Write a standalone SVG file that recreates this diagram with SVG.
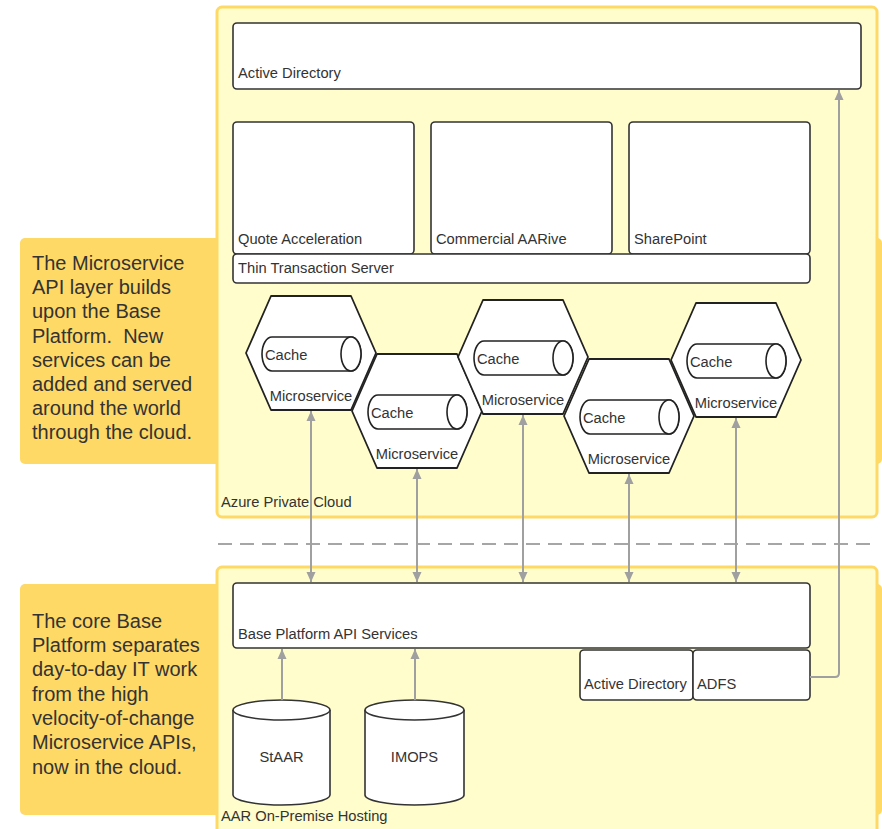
<svg xmlns="http://www.w3.org/2000/svg" width="882" height="829" viewBox="0 0 882 829">
<defs>
<style>
.callout{fill:#FFD966;}
.cont{fill:#FFFDCB;stroke:#FFD966;stroke-width:3;}
.box{fill:#FFFFFF;stroke:#333333;stroke-width:1.6;}
.lbl{font-family:"Liberation Sans",Arial,sans-serif;font-size:14.7px;fill:#333333;}
.ctext{font-family:"Liberation Sans",Arial,sans-serif;font-size:20px;fill:#333333;}
.conn{fill:none;stroke:#A0A0A0;stroke-width:2;}
.dash{fill:none;stroke:#A6A6A6;stroke-width:2;stroke-dasharray:14 8;}
</style>
<marker id="ah" viewBox="0 0 10 10" refX="10" refY="5" markerWidth="10" markerHeight="10" markerUnits="userSpaceOnUse" orient="auto-start-reverse">
<path d="M0,0.5 L10,5 L0,9.5 Z" fill="#A0A0A0"/>
</marker>
<symbol id="hex" overflow="visible">
<path d="M-65,0 L-40,-57 L40,-57 L65,0 L40,57 L-40,57 Z" fill="#FFFFFF" stroke="#222222" stroke-width="1.8" stroke-linejoin="round"/>
<path d="M-39,-16 L40,-16 A10,17 0 0 1 40,18 L-39,18 A10,17 0 0 1 -39,-16 Z" fill="#FFFFFF" stroke="#222222" stroke-width="1.6"/>
<ellipse cx="40" cy="1" rx="10" ry="17" fill="#FFFFFF" stroke="#222222" stroke-width="1.6"/>
</symbol>
</defs>

<g id="callout-cloud">
<rect class="callout" x="20" y="238" width="862" height="226" rx="5"/>
<text class="ctext"><tspan x="32" y="270">The Microservice</tspan><tspan x="32" y="294">API layer builds</tspan><tspan x="32" y="318">upon the Base</tspan><tspan x="32" y="343">Platform.&#160; New</tspan><tspan x="32" y="367">services can be</tspan><tspan x="32" y="391">added and served</tspan><tspan x="32" y="415">around the world</tspan><tspan x="32" y="439">through the cloud.</tspan></text>
</g>
<g id="callout-base">
<rect class="callout" x="20" y="584" width="862" height="231" rx="5"/>
<text class="ctext"><tspan x="32" y="628">The core Base</tspan><tspan x="32" y="652">Platform separates</tspan><tspan x="32" y="676">day-to-day IT work</tspan><tspan x="32" y="701">from the high</tspan><tspan x="32" y="725">velocity-of-change</tspan><tspan x="32" y="749">Microservice APIs,</tspan><tspan x="32" y="774">now in the cloud.</tspan></text>
</g>

<g id="azure-private-cloud">
<rect class="cont" x="217" y="7" width="660" height="510" rx="5"/>
<text class="lbl" x="221" y="507">Azure Private Cloud</text>
</g>
<g id="aar-on-premise">
<rect class="cont" x="217" y="567" width="660" height="280" rx="5"/>
<text class="lbl" x="221" y="821">AAR On-Premise Hosting</text>
</g>

<path id="separator" class="dash" d="M218,544 H872"/>

<g id="active-directory-top">
<rect class="box" x="233" y="23" width="628" height="66" rx="4"/>
<text class="lbl" x="238" y="78">Active Directory</text>
</g>
<g id="quote-acceleration">
<rect class="box" x="233" y="122" width="181" height="132" rx="4"/>
<text class="lbl" x="238" y="244">Quote Acceleration</text>
</g>
<g id="commercial-aarive">
<rect class="box" x="431" y="122" width="181" height="132" rx="4"/>
<text class="lbl" x="436" y="244">Commercial AARive</text>
</g>
<g id="sharepoint">
<rect class="box" x="629" y="122" width="181" height="132" rx="4"/>
<text class="lbl" x="634" y="244">SharePoint</text>
</g>
<g id="thin-transaction-server">
<rect class="box" x="233" y="254" width="577" height="29" rx="4"/>
<text class="lbl" x="238" y="273">Thin Transaction Server</text>
</g>

<g id="ms1">
<use href="#hex" x="311" y="353"/>
<text class="lbl" x="265" y="360">Cache</text>
<text class="lbl" x="311" y="401" text-anchor="middle">Microservice</text>
</g>
<g id="ms2">
<use href="#hex" x="417" y="411"/>
<text class="lbl" x="371" y="418">Cache</text>
<text class="lbl" x="417" y="459" text-anchor="middle">Microservice</text>
</g>
<g id="ms3">
<use href="#hex" x="523" y="357"/>
<text class="lbl" x="477" y="364">Cache</text>
<text class="lbl" x="523" y="405" text-anchor="middle">Microservice</text>
</g>
<g id="ms4">
<use href="#hex" x="629" y="416"/>
<text class="lbl" x="583" y="423">Cache</text>
<text class="lbl" x="629" y="464" text-anchor="middle">Microservice</text>
</g>
<g id="ms5">
<use href="#hex" x="736" y="360"/>
<text class="lbl" x="690" y="367">Cache</text>
<text class="lbl" x="736" y="408" text-anchor="middle">Microservice</text>
</g>

<g id="base-platform-api">
<rect class="box" x="233" y="583" width="577" height="65" rx="4"/>
<text class="lbl" x="238" y="639">Base Platform API Services</text>
</g>
<g id="active-directory-onprem">
<rect class="box" x="580" y="650" width="113" height="50" rx="4"/>
<text class="lbl" x="584" y="689">Active Directory</text>
</g>
<g id="adfs">
<rect class="box" x="693" y="650" width="117" height="50" rx="4"/>
<text class="lbl" x="697" y="689">ADFS</text>
</g>
<g id="staar">
<path class="box" d="M233,710 A48.5,10 0 0 1 330,710 V795 A48.5,10 0 0 1 233,795 Z"/>
<path class="box" fill="none" d="M233,710 A48.5,10 0 0 0 330,710"/>
<text class="lbl" x="281.5" y="762" text-anchor="middle">StAAR</text>
</g>
<g id="imops">
<path class="box" d="M365,710 A49.5,10 0 0 1 464,710 V795 A49.5,10 0 0 1 365,795 Z"/>
<path class="box" fill="none" d="M365,710 A49.5,10 0 0 0 464,710"/>
<text class="lbl" x="414.5" y="762" text-anchor="middle">IMOPS</text>
</g>

<g id="connectors">
<line class="conn" x1="311" y1="411" x2="311" y2="582" marker-start="url(#ah)" marker-end="url(#ah)"/>
<line class="conn" x1="417" y1="469" x2="417" y2="582" marker-start="url(#ah)" marker-end="url(#ah)"/>
<line class="conn" x1="523" y1="415" x2="523" y2="582" marker-start="url(#ah)" marker-end="url(#ah)"/>
<line class="conn" x1="629" y1="474" x2="629" y2="582" marker-start="url(#ah)" marker-end="url(#ah)"/>
<line class="conn" x1="736" y1="418" x2="736" y2="582" marker-start="url(#ah)" marker-end="url(#ah)"/>
<line class="conn" x1="282" y1="700" x2="282" y2="649" marker-end="url(#ah)"/>
<line class="conn" x1="415" y1="700" x2="415" y2="649" marker-end="url(#ah)"/>
<path class="conn" d="M810,677 H835 Q839,677 839,673 V90" marker-end="url(#ah)"/>
</g>
</svg>
